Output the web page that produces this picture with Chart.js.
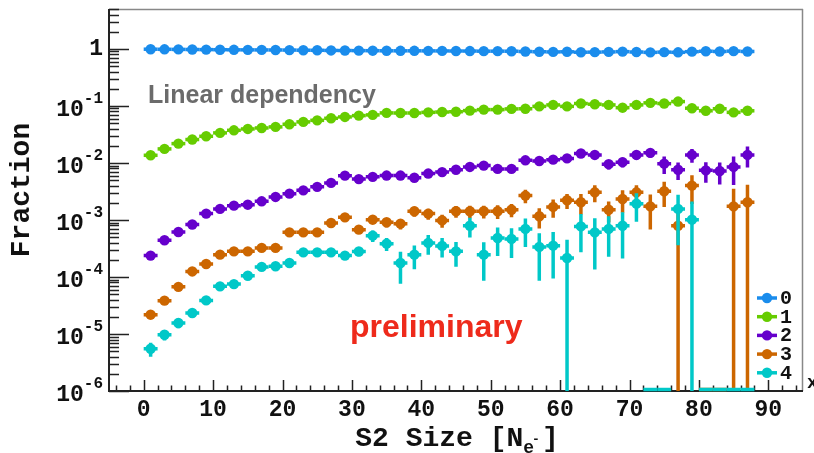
<!DOCTYPE html>
<html>
<head>
<meta charset="utf-8">
<script src="https://cdn.jsdelivr.net/npm/chart.js@4.4.1/dist/chart.umd.min.js"></script>
<style>
  html, body { margin: 0; padding: 0; background: #fff; }
  #wrap { position: relative; width: 814px; height: 453px; }
</style>
</head>
<body>
<div id="wrap"><canvas id="chart" width="814" height="453"></canvas></div>
<script>
// Data (bin centres, S2 size in electrons; bins are 2 wide)
const bins = [1, 3, 5, 7, 9, 11, 13, 15, 17, 19, 21, 23, 25, 27, 29, 31, 33, 35, 37, 39, 41, 43,
  45, 47, 49, 51, 53, 55, 57, 59, 61, 63, 65, 67, 69, 71, 73, 75, 77, 79, 81, 83, 85, 87];
const binHalf = 1;
const names = ["0", "1", "2", "3", "4"];

const frac0 = [0.986, 0.982, 0.978, 0.974, 0.97, 0.966, 0.962, 0.96, 0.958, 0.956, 0.952, 0.947,
  0.944, 0.938, 0.935, 0.931, 0.929, 0.925, 0.924, 0.924, 0.922, 0.92, 0.917, 0.915, 0.911, 0.911,
  0.909, 0.898, 0.89, 0.884, 0.888, 0.873, 0.876, 0.884, 0.894, 0.88, 0.868, 0.876, 0.87, 0.893,
  0.908, 0.9, 0.912, 0.9];
const frac1 = [0.0136, 0.0176, 0.0218, 0.0257, 0.0293, 0.0336, 0.0373, 0.0394, 0.041, 0.0428,
  0.0476, 0.0524, 0.0558, 0.0606, 0.064, 0.0675, 0.0695, 0.0753, 0.075, 0.075, 0.077, 0.078,
  0.079, 0.0827, 0.086, 0.086, 0.0885, 0.089, 0.098, 0.104, 0.098, 0.11, 0.107, 0.104, 0.093,
  0.104, 0.113, 0.11, 0.119, 0.091, 0.082, 0.089, 0.077, 0.082];
const frac2 = [2.37e-4, 4.4e-4, 6.15e-4, 8.3e-4, 1.29e-3, 1.56e-3, 1.78e-3, 1.85e-3, 2.12e-3,
  2.53e-3, 2.89e-3, 3.3e-3, 3.8e-3, 4.46e-3, 5.98e-3, 5.2e-3, 5.7e-3, 6.0e-3, 6.0e-3, 5.5e-3,
  6.5e-3, 6.9e-3, 7.6e-3, 8.5e-3, 8.97e-3, 7.85e-3, 7.85e-3, 0.0111, 0.0108, 0.0114, 0.012,
  0.0146, 0.0138, 9.5e-3, 0.0103, 0.0138, 0.015, 9.7e-3, 7.6e-3, 0.0138, 7.4e-3, 7.2e-3, 8.5e-3,
  0.0138];
const frac3 = [2.18e-5, 3.84e-5, 6.7e-5, 1.25e-4, 1.69e-4, 2.46e-4, 2.81e-4, 2.81e-4, 3.23e-4,
  3.23e-4, 6.05e-4, 6.05e-4, 6.05e-4, 8.85e-4, 1.11e-3, 6.76e-4, 1.01e-3, 9.1e-4, 8.6e-4, 1.42e-3,
  1.29e-3, 9.8e-4, 1.42e-3, 1.42e-3, 1.42e-3, 1.42e-3, 1.51e-3, 2.67e-3, 1.16e-3, 1.69e-3,
  2.21e-3, 2.04e-3, 3.05e-3, 1.51e-3, 2.33e-3, 3.05e-3, 1.73e-3, 3.18e-3, 7.9e-4, 4.0e-3, 0, 0,
  1.73e-3, 2.04e-3];
const frac4 = [5.5e-6, 9.7e-6, 1.56e-5, 2.33e-5, 3.88e-5, 6.84e-5, 7.5e-5, 1.05e-4, 1.5e-4,
  1.54e-4, 1.76e-4, 2.7e-4, 2.7e-4, 2.7e-4, 2.37e-4, 2.8e-4, 5.3e-4, 3.84e-4, 1.76e-4, 2.46e-4,
  3.95e-4, 3.5e-4, 2.81e-4, 7.9e-4, 2.46e-4, 4.83e-4, 4.64e-4, 6.95e-4, 3.36e-4, 3.54e-4, 2.15e-4,
  7.7e-4, 6.05e-4, 6.95e-4, 7.9e-4, 1.93e-3, 0, 0, 1.56e-3, 1.01e-3, 0, 0, 0, 0];

// vertical errors (absolute)
const err2 = [1.5e-5, 2.5e-5, 3e-5, 4e-5, 5e-5, 6e-5, 7e-5, 7e-5, 8e-5, 1e-4, 1.1e-4, 1.3e-4,
  1.5e-4, 1.8e-4, 2.3e-4, 2.3e-4, 2.6e-4, 3e-4, 3.2e-4, 3.3e-4, 4e-4, 4.5e-4, 5.2e-4, 6e-4, 7e-4,
  7e-4, 7.5e-4, 1e-3, 1.1e-3, 1.2e-3, 1.4e-3, 1.7e-3, 1.8e-3, 1.8e-3, 2e-3, 2.3e-3, 2.6e-3, 3.3e-3,
  2.6e-3, 3.7e-3, 2.9e-3, 3e-3, 4.4e-3, 5.5e-3];
const err3 = [3e-6, 5e-6, 8e-6, 1.3e-5, 1.7e-5, 2.3e-5, 2.7e-5, 2.8e-5, 3.2e-5, 3.4e-5, 6e-5,
  6.5e-5, 7e-5, 1e-4, 1.3e-4, 1.1e-4, 1.6e-4, 1.7e-4, 1.8e-4, 2.8e-4, 2.8e-4, 2.5e-4, 3.3e-4,
  3.5e-4, 3.6e-4, 3.8e-4, 4e-4, 7e-4, 4.5e-4, 6e-4, 6.5e-4, 8e-4, 1e-3, 6e-4, 1e-3, 1e-3, 1.05e-3,
  1.5e-3, 8.5e-4, 2.1e-3, 0, 0, 1.8e-3, 2.1e-3];
const err4 = [1.5e-6, 2e-6, 3e-6, 4e-6, 6e-6, 9e-6, 1e-5, 1.3e-5, 1.7e-5, 1.8e-5, 2e-5, 3e-5,
  3.2e-5, 3.5e-5, 3.5e-5, 5e-5, 1.2e-4, 1e-4, 1e-4, 1.1e-4, 1.5e-4, 1.3e-4, 1.3e-4, 3e-4, 1.6e-4,
  2.5e-4, 2.5e-4, 3.6e-4, 2.5e-4, 2.6e-4, 2.35e-4, 5e-4, 4.7e-4, 4.7e-4, 5.8e-4, 1e-3, 0, 0,
  1.2e-3, 1.1e-3, 0, 0, 0, 0];

const yTicks = [1e-6, 1e-5, 1e-4, 1e-3, 1e-2, 1e-1, 1];
const yExp = ["-6", "-5", "-4", "-3", "-2", "-1", ""];
const xTicks = [0, 10, 20, 30, 40, 50, 60, 70, 80, 90];

const series = [frac0, frac1, frac2, frac3, frac4];
const errors = [null, null, err2, err3, err4];
const colors = ["#1a8cec", "#66cc00", "#6600cc", "#cc6600", "#00c8c8"];

const MONO = "'Liberation Mono', 'DejaVu Sans Mono', monospace";
const SANS = "'Liberation Sans', Arial, sans-serif";
const MARK = 5.2;

// Frame, ticks, axis labels (ROOT style, ticks inside)
const frame = {
  id: "frame",
  beforeDatasetsDraw(chart) {
    const { ctx, chartArea: a, scales: { x, y } } = chart;
    ctx.save();
    ctx.lineWidth = 1.5;
    ctx.strokeStyle = "#888";
    ctx.beginPath();
    ctx.moveTo(a.left, a.top + 0.5); ctx.lineTo(a.right, a.top + 0.5);
    ctx.moveTo(a.right - 0.5, a.top); ctx.lineTo(a.right - 0.5, a.bottom);
    ctx.stroke();
    ctx.strokeStyle = "#222";
    ctx.lineWidth = 2;
    ctx.beginPath();
    ctx.moveTo(a.left, a.top); ctx.lineTo(a.left, a.bottom);
    ctx.lineTo(a.right, a.bottom);
    ctx.stroke();

    // y ticks
    ctx.lineWidth = 1.5;
    ctx.beginPath();
    yTicks.forEach((d) => {
      const py = Math.round(y.getPixelForValue(d)) + 0.5;
      ctx.moveTo(a.left, py); ctx.lineTo(a.left + 20, py);
      for (let m = 2; m <= 9; m++) {
        const v = m * d;
        if (v > y.max) break;
        const q = Math.round(y.getPixelForValue(v)) + 0.5;
        ctx.moveTo(a.left, q); ctx.lineTo(a.left + 10, q);
      }
    });
    // x ticks
    for (let v = -4; v <= 94; v += 2) {
      const px = Math.round(x.getPixelForValue(v)) + 0.5;
      const len = v % 10 === 0 ? 11 : 5.5;
      ctx.moveTo(px, a.bottom); ctx.lineTo(px, a.bottom - len);
    }
    ctx.stroke();

    // y labels
    ctx.fillStyle = "#111";
    ctx.textBaseline = "middle";
    yTicks.forEach((d, i) => {
      const py = y.getPixelForValue(d);
      const rx = a.left - 6;
      if (!yExp[i]) {
        ctx.font = "bold 23px " + MONO;
        ctx.textAlign = "right";
        ctx.fillText("1", rx, py);
        return;
      }
      ctx.font = "bold 16px " + MONO;
      ctx.textAlign = "right";
      ctx.fillText(yExp[i], rx, py - 7);
      const ew = ctx.measureText(yExp[i]).width;
      ctx.font = "bold 23px " + MONO;
      ctx.fillText("10", rx - ew, py + 4);
    });

    // x labels
    ctx.font = "bold 23px " + MONO;
    ctx.textAlign = "center";
    xTicks.forEach((v) => ctx.fillText(String(v), x.getPixelForValue(v), 410));

    // axis titles
    ctx.font = "bold 28px " + MONO;
    ctx.save();
    ctx.translate(22, 190);
    ctx.rotate(-Math.PI / 2);
    ctx.textAlign = "center";
    ctx.fillText("Fraction", 0, 0);
    ctx.restore();

    ctx.textAlign = "left";
    ctx.textBaseline = "alphabetic";
    const p1 = "S2 Size [N", p3 = "]";
    ctx.font = "bold 28px " + MONO;
    const w1 = ctx.measureText(p1).width, w3 = ctx.measureText(p3).width;
    ctx.font = "bold 18px " + MONO;
    const w2 = ctx.measureText("e").width;
    ctx.font = "bold 13px " + MONO;
    const w2b = ctx.measureText("-").width;
    let sx = 457 - (w1 + w2 + w2b + w3) / 2;
    const base = 446;
    ctx.font = "bold 28px " + MONO;
    ctx.fillText(p1, sx, base); sx += w1;
    ctx.font = "bold 18px " + MONO;
    ctx.fillText("e", sx, base + 7); sx += w2;
    ctx.font = "bold 13px " + MONO;
    ctx.fillText("-", sx - 2, base - 3); sx += w2b;
    ctx.font = "bold 28px " + MONO;
    ctx.fillText(p3, sx, base);

    ctx.font = "bold 18px " + MONO;
    ctx.textBaseline = "middle";
    ctx.fillText("x", 807, 383);
    ctx.restore();
  }
};

// error bars drawn just before each dataset's markers
const ebars = {
  id: "ebars",
  beforeDatasetDraw(chart, args) {
    const i = args.index;
    const { ctx, chartArea: a, scales: { x, y } } = chart;
    const vals = series[i], errs = errors[i];
    ctx.save();
    ctx.beginPath();
    ctx.rect(a.left, a.top, a.right - a.left, a.bottom - a.top + 1);
    ctx.clip();
    ctx.strokeStyle = colors[i];
    ctx.lineWidth = 3.5;
    bins.forEach((b, k) => {
      const v = vals[k];
      if (v === null) return;
      const py = v > 0 ? y.getPixelForValue(v) : a.bottom - 1.5;
      ctx.beginPath();
      ctx.moveTo(x.getPixelForValue(b - binHalf), py);
      ctx.lineTo(x.getPixelForValue(b + binHalf), py);
      const e = errs ? errs[k] : 0;
      if (v > 0 && e > 0) {
        const px = x.getPixelForValue(b);
        ctx.moveTo(px, y.getPixelForValue(v + e));
        ctx.lineTo(px, v - e > 0 ? y.getPixelForValue(v - e) : a.bottom);
      }
      ctx.stroke();
    });
    ctx.restore();
  }
};

// annotations + legend
const extras = {
  id: "extras",
  afterDraw(chart) {
    const { ctx } = chart;
    ctx.save();
    ctx.textAlign = "left";
    ctx.textBaseline = "alphabetic";
    ctx.font = "bold 25px " + SANS;
    ctx.fillStyle = "#6b6b6b";
    ctx.fillText("Linear dependency", 148, 103);
    ctx.font = "bold 32px " + SANS;
    ctx.fillStyle = "#ee2a1b";
    ctx.fillText("preliminary", 350, 337);

    ctx.textBaseline = "middle";
    ctx.font = "bold 20px " + MONO;
    names.forEach((n, i) => {
      const ly = 298 + i * 18.7;
      ctx.strokeStyle = colors[i];
      ctx.fillStyle = colors[i];
      ctx.lineWidth = 3.5;
      ctx.beginPath(); ctx.moveTo(757, ly); ctx.lineTo(777, ly); ctx.stroke();
      ctx.beginPath(); ctx.arc(767, ly, MARK, 0, Math.PI * 2); ctx.fill();
      ctx.fillStyle = "#111";
      ctx.fillText(n, 780, ly + 1);
    });
    ctx.restore();
  }
};

const chart = new Chart(document.getElementById("chart").getContext("2d"), {
  type: "scatter",
  data: {
    datasets: series.map((vals, i) => ({
      label: names[i],
      data: bins.map((b, k) => ({ x: b, y: vals[k] })),
      backgroundColor: colors[i],
      borderWidth: 0,
      pointRadius: (c) => (c.raw && c.raw.y > 0 ? MARK : 0),
      pointHoverRadius: 0,
      order: 4 - i,
    })),
  },
  options: {
    responsive: false,
    animation: false,
    devicePixelRatio: 1,
    events: [],
    layout: { padding: { left: 109, right: 11, top: 9, bottom: 62 } },
    plugins: { legend: { display: false }, tooltip: { enabled: false } },
    scales: {
      x: { type: "linear", min: -5, max: 95, display: false },
      y: { type: "logarithmic", min: 1e-6, max: 5, display: false },
    },
  },
  plugins: [frame, ebars, extras],
});
</script>
</body>
</html>
